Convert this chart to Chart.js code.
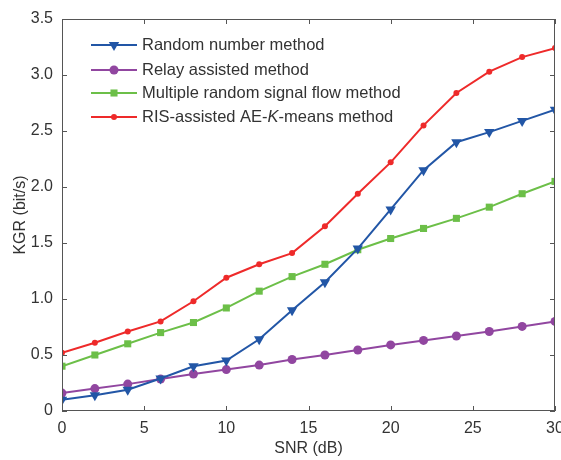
<!DOCTYPE html>
<html>
<head>
<meta charset="utf-8">
<script src="https://cdn.jsdelivr.net/npm/chart.js@4"></script>
<style>
  html, body { margin: 0; padding: 0; background: #fff; }
  #box { width: 561px; height: 460px; }
</style>
</head>
<body>
<div id="box"><canvas id="grafico"></canvas></div>
<script>
const snr = [0, 2, 4, 6, 8, 10, 12, 14, 16, 18, 20, 22, 24, 26, 28, 30]
const aleatorio = [0.10, 0.14, 0.19, 0.29, 0.40, 0.45, 0.64, 0.90, 1.15, 1.45, 1.80, 2.15, 2.40, 2.49, 2.59, 2.69]
const relay = [0.16, 0.20, 0.24, 0.285, 0.33, 0.37, 0.41, 0.46, 0.50, 0.545, 0.59, 0.63, 0.67, 0.71, 0.755, 0.80]
const multiplo = [0.40, 0.50, 0.60, 0.70, 0.79, 0.92, 1.07, 1.20, 1.31, 1.44, 1.54, 1.63, 1.72, 1.82, 1.94, 2.05]
const ris = [0.52, 0.61, 0.71, 0.80, 0.98, 1.19, 1.31, 1.41, 1.65, 1.94, 2.22, 2.55, 2.84, 3.03, 3.16, 3.24]

const nomes = [
  ["Random number method"],
  ["Relay assisted method"],
  ["Multiple random signal flow method"],
  ["RIS-assisted AE-", "K", "-means method"]
]
const cores = ["#2256a6", "#9146a0", "#6cbf48", "#ee2a2a"]
const fonte = "'Liberation Sans', Arial, sans-serif"
const corTexto = "#333333"
const corEixo = "#555555"

function pontos(valores) {
  return snr.map((x, i) => ({ x: x, y: valores[i] }))
}

const series = [
  { label: nomes[0].join(""), data: pontos(aleatorio), borderColor: cores[0], backgroundColor: cores[0],
    pointStyle: "triangle", rotation: 180, pointRadius: 6 },
  { label: nomes[1].join(""), data: pontos(relay), borderColor: cores[1], backgroundColor: cores[1],
    pointStyle: "circle", pointRadius: 4.5 },
  { label: nomes[2].join(""), data: pontos(multiplo), borderColor: cores[2], backgroundColor: cores[2],
    pointStyle: "rect", pointRadius: 5 },
  { label: nomes[3].join(""), data: pontos(ris), borderColor: cores[3], backgroundColor: cores[3],
    pointStyle: "circle", pointRadius: 3 }
]
series.forEach((s) => {
  s.borderWidth = 2
  s.pointBorderWidth = 0
  s.tension = 0
  s.fill = false
})

// moldura com ticks para dentro nos quatro lados + legenda dentro do grafico
const moldura = {
  id: "moldura",
  afterDatasetsDraw(chart) {
    const { ctx, chartArea: a, scales } = chart
    ctx.save()
    ctx.strokeStyle = corEixo
    ctx.lineWidth = 1
    ctx.strokeRect(a.left + 0.5, a.top + 0.5, a.right - a.left - 1, a.bottom - a.top - 1)
    ctx.beginPath()
    scales.x.ticks.forEach((t) => {
      const px = Math.round(scales.x.getPixelForValue(t.value)) + 0.5
      ctx.moveTo(px, a.bottom); ctx.lineTo(px, a.bottom - 5)
      ctx.moveTo(px, a.top); ctx.lineTo(px, a.top + 5)
    })
    scales.y.ticks.forEach((t) => {
      const py = Math.round(scales.y.getPixelForValue(t.value)) + 0.5
      ctx.moveTo(a.left, py); ctx.lineTo(a.left + 5, py)
      ctx.moveTo(a.right, py); ctx.lineTo(a.right - 5, py)
    })
    ctx.stroke()

    // legenda
    const x0 = a.left + 29, x1 = a.left + 75, xt = a.left + 80
    const linhas = [45, 70, 93, 117]
    ctx.textBaseline = "middle"
    chart.data.datasets.forEach((ds, i) => {
      const y = linhas[i]
      ctx.strokeStyle = ds.borderColor
      ctx.lineWidth = 2
      ctx.beginPath(); ctx.moveTo(x0, y); ctx.lineTo(x1, y); ctx.stroke()
      ctx.fillStyle = ds.backgroundColor
      Chart.helpers.drawPoint(ctx, { pointStyle: ds.pointStyle, rotation: ds.rotation || 0,
        radius: ds.pointRadius, borderWidth: 0 }, (x0 + x1) / 2, y)
      let x = xt
      nomes[i].forEach((parte, j) => {
        ctx.font = (j === 1 ? "italic " : "") + "16.5px " + fonte
        ctx.fillStyle = corTexto
        ctx.fillText(parte, x, y)
        x += ctx.measureText(parte).width
      })
    })
    ctx.restore()
  }
}

new Chart(document.getElementById("grafico"), {
  type: "line",
  data: { datasets: series },
  options: {
    responsive: true,
    maintainAspectRatio: false,
    animation: false,
    layout: { padding: { top: 19, right: 2, left: 0, bottom: 0 } },
    plugins: { legend: { display: false }, tooltip: { enabled: false } },
    scales: {
      x: {
        type: "linear", min: 0, max: 30,
        ticks: { stepSize: 5, color: corTexto, font: { family: fonte, size: 16 }, padding: 8, maxRotation: 0 },
        grid: { display: false, drawTicks: false },
        border: { display: false },
        title: { display: true, text: "SNR (dB)", color: corTexto, font: { family: fonte, size: 16 },
          padding: { top: 0, bottom: 2 } },
        afterFit: (s) => { s.height = 49; s.paddingLeft = 0; s.paddingRight = 0 }
      },
      y: {
        min: 0, max: 3.5,
        ticks: { stepSize: 0.5, color: corTexto, font: { family: fonte, size: 16 }, padding: 9,
          callback: (v) => (v === 0 ? "0" : v.toFixed(1)) },
        grid: { display: false, drawTicks: false },
        border: { display: false },
        title: { display: true, text: "KGR (bit/s)", color: corTexto, font: { family: fonte, size: 16 },
          padding: { top: 11, bottom: 0 } },
        afterFit: (s) => { s.width = 62; s.paddingTop = 0; s.paddingBottom = 0 }
      }
    }
  },
  plugins: [moldura]
})
</script>
</body>
</html>
